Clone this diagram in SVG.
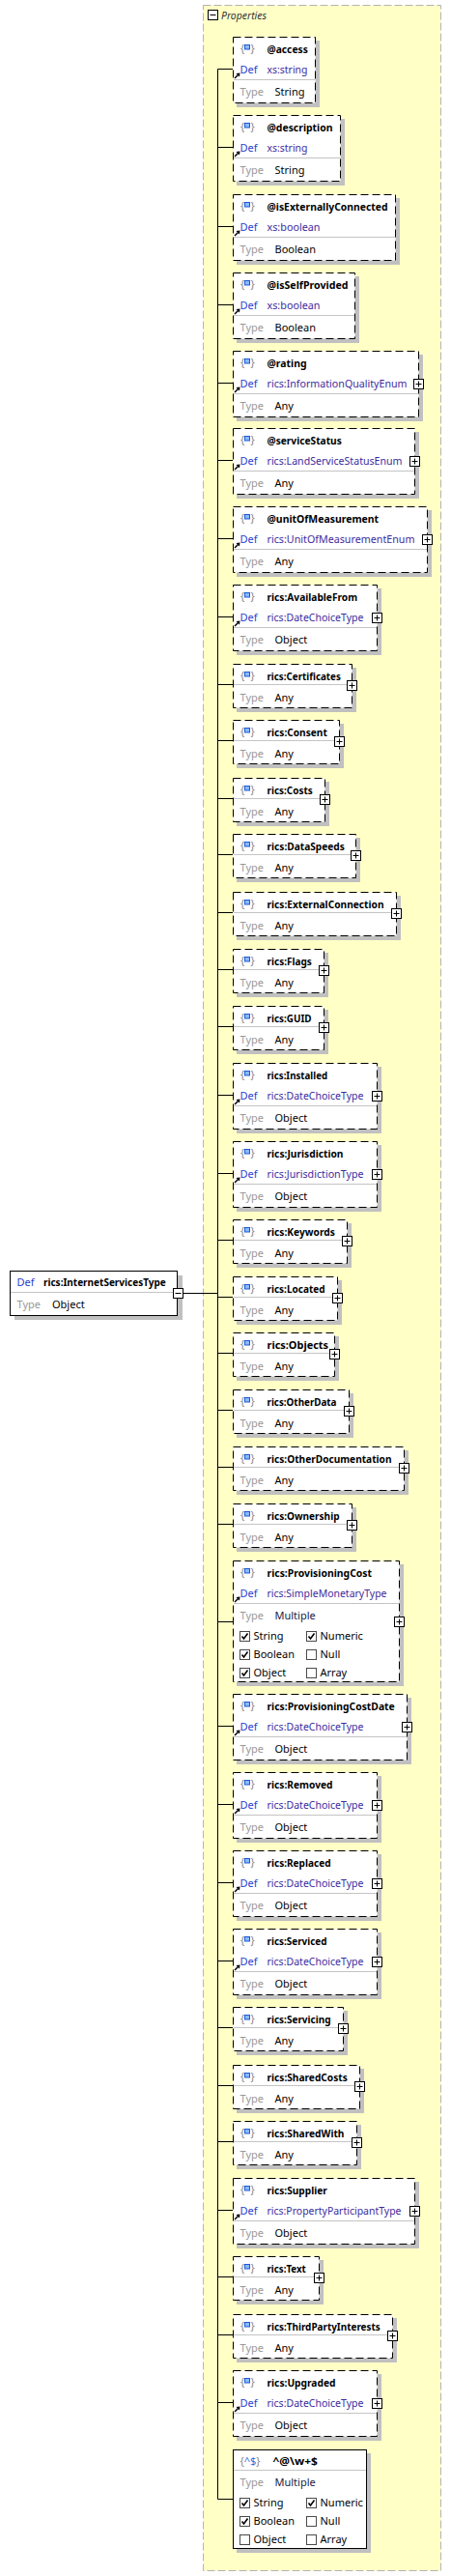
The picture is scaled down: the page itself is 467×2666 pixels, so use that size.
<svg xmlns="http://www.w3.org/2000/svg" xmlns:xlink="http://www.w3.org/1999/xlink" width="467" height="2666" viewBox="0 0 467 2666">
<style>
text{font-family:"Noto Sans","Liberation Sans",sans-serif;font-size:11px}
.sh{fill:#c0c0c0}
.bx{fill:#fff;stroke:#000;stroke-width:1;stroke-dasharray:8 4}
.bs{fill:#fff;stroke:#000;stroke-width:1}
.sep{stroke:#c4c4c4;stroke-width:1}
.nm{font-weight:bold;fill:#000}
.df{fill:#1f3fd0}
.tr{fill:#3d2b9e}
.tl{fill:#999}
.vl{fill:#000}
.mu{fill:#222244}
.br{fill:#888}
.bl{fill:#2a6fe0}
.cn{stroke:#000;stroke-width:1;fill:none}
.cont{fill:#ffffc6;stroke:#b4b4b4;stroke-dasharray:8 3}
</style>
<defs>
<g id="ic"><text class="br" x="8" y="16">{</text><text class="br" x="18.5" y="16">}</text><rect x="12.5" y="8.5" width="5" height="4.5" fill="#8ab8ff" stroke="#1a5cd8"/></g>
<g id="arr"><path d="M2,43 L5.5,39.5" stroke="#000" stroke-width="1.5"/><path d="M7.5,37.5 L3.5,38 L7,41.5Z" fill="#000"/></g>
<g id="plus"><rect x="-5" y="-5" width="10" height="10" fill="#fff" stroke="#000"/><path d="M-3,0H3M0,-3V3" stroke="#000"/></g>
<g id="cb"><rect x="0.5" y="0.5" width="10" height="10" fill="#fff" stroke="#4a4a4a"/></g>
<g id="cbk"><use href="#cb"/><path d="M2.5,5.5 L4.5,8 L8.5,2.5" stroke="#000" stroke-width="1.6" fill="none"/></g>
</defs>

<g id="properties">
<rect class="cont" x="210.5" y="5.5" width="246" height="2655"/>
<rect x="215.5" y="10.5" width="10" height="10" fill="#fff" stroke="#000"/>
<path d="M217.5,15.5H223.5" stroke="#000"/>
<text x="229" y="19.5" font-style="italic" fill="#333" textLength="47" lengthAdjust="spacingAndGlyphs">Properties</text>
</g>

<g id="connectors" class="cn">
<path d="M189.5,1338.5H225.5"/>
<path d="M225.5,71.5V2586.5"/>
<path d="M225.5,71.5H241M225.5,152.5H241M225.5,234.5H241M225.5,315.5H241M225.5,396.5H241M225.5,476.5H241M225.5,557.5H241M225.5,638.5H241M225.5,708.5H241M225.5,766.5H241M225.5,826.5H241M225.5,884.5H241M225.5,944.5H241M225.5,1003.5H241M225.5,1062.5H241M225.5,1133.5H241M225.5,1214.5H241M225.5,1283.5H241M225.5,1342.5H241M225.5,1400.5H241M225.5,1459.5H241M225.5,1518.5H241M225.5,1577.5H241M225.5,1678.5H241M225.5,1786.5H241M225.5,1867.5H241M225.5,1948.5H241M225.5,2029.5H241M225.5,2098.5H241M225.5,2158.5H241M225.5,2216.5H241M225.5,2287.5H241M225.5,2356.5H241M225.5,2416.5H241M225.5,2486.5H241M225.5,2586.5H241"/>
</g>

<g id="root">
<rect class="sh" x="15" y="1320" width="174" height="46"/>
<rect class="bs" x="10.5" y="1315.5" width="173" height="46"/>
<line class="sep" x1="11" y1="1337.5" x2="183" y2="1337.5"/>
<text class="df" x="17.5" y="1331">Def</text>
<text class="nm" x="45" y="1331" textLength="126.7" lengthAdjust="spacingAndGlyphs">rics:InternetServicesType</text>
<text class="tl" x="17.5" y="1353.5">Type</text>
<text class="vl" x="54" y="1353.5">Object</text>
<rect x="179.5" y="1333.5" width="10" height="10" fill="#fff" stroke="#000"/>
<path d="M181.5,1338.5H187.5" stroke="#000"/>
</g>

<g id="n-access">
<rect class="sh" x="245" y="42" width="86" height="69"/><rect class="bx" x="241.5" y="38.5" width="85" height="68"/>
<use href="#ic" x="241" y="38"/><text class="nm" x="276.5" y="55" textLength="42.3" lengthAdjust="spacingAndGlyphs">@access</text>
<text class="df" x="248.5" y="76">Def</text><text class="tr" x="276.5" y="76" textLength="42" lengthAdjust="spacingAndGlyphs">xs:string</text>
<line class="sep" x1="242" y1="82.5" x2="326" y2="82.5"/>
<text class="tl" x="248.5" y="98.5">Type</text><text class="vl" x="284.5" y="98.5">String</text>
<use href="#arr" x="241" y="38"/>
</g>

<g id="n-description">
<rect class="sh" x="245" y="123" width="112" height="69"/><rect class="bx" x="241.5" y="119.5" width="111" height="68"/>
<use href="#ic" x="241" y="119"/><text class="nm" x="276.5" y="136" textLength="68" lengthAdjust="spacingAndGlyphs">@description</text>
<text class="df" x="248.5" y="157">Def</text><text class="tr" x="276.5" y="157" textLength="42" lengthAdjust="spacingAndGlyphs">xs:string</text>
<line class="sep" x1="242" y1="163.5" x2="352" y2="163.5"/>
<text class="tl" x="248.5" y="179.5">Type</text><text class="vl" x="284.5" y="179.5">String</text>
<use href="#arr" x="241" y="119"/>
</g>

<g id="n-isExternallyConnected">
<rect class="sh" x="245" y="205" width="169" height="69"/><rect class="bx" x="241.5" y="201.5" width="168" height="68"/>
<use href="#ic" x="241" y="201"/><text class="nm" x="276.5" y="218" textLength="125" lengthAdjust="spacingAndGlyphs">@isExternallyConnected</text>
<text class="df" x="248.5" y="239">Def</text><text class="tr" x="276.5" y="239" textLength="55" lengthAdjust="spacingAndGlyphs">xs:boolean</text>
<line class="sep" x1="242" y1="245.5" x2="409" y2="245.5"/>
<text class="tl" x="248.5" y="261.5">Type</text><text class="vl" x="284.5" y="261.5">Boolean</text>
<use href="#arr" x="241" y="201"/>
</g>

<g id="n-isSelfProvided">
<rect class="sh" x="245" y="286" width="127" height="69"/><rect class="bx" x="241.5" y="282.5" width="126" height="68"/>
<use href="#ic" x="241" y="282"/><text class="nm" x="276.5" y="299" textLength="84" lengthAdjust="spacingAndGlyphs">@isSelfProvided</text>
<text class="df" x="248.5" y="320">Def</text><text class="tr" x="276.5" y="320" textLength="55" lengthAdjust="spacingAndGlyphs">xs:boolean</text>
<line class="sep" x1="242" y1="326.5" x2="367" y2="326.5"/>
<text class="tl" x="248.5" y="342.5">Type</text><text class="vl" x="284.5" y="342.5">Boolean</text>
<use href="#arr" x="241" y="282"/>
</g>

<g id="n-rating">
<rect class="sh" x="245" y="367" width="193" height="69"/><rect class="bx" x="241.5" y="363.5" width="192" height="68"/>
<use href="#ic" x="241" y="363"/><text class="nm" x="276.5" y="380" textLength="41" lengthAdjust="spacingAndGlyphs">@rating</text>
<text class="df" x="248.5" y="401">Def</text><text class="tr" x="276.5" y="401" textLength="145" lengthAdjust="spacingAndGlyphs">rics:InformationQualityEnum</text>
<line class="sep" x1="242" y1="407.5" x2="433" y2="407.5"/>
<text class="tl" x="248.5" y="423.5">Type</text><text class="vl" x="284.5" y="423.5">Any</text>
<use href="#arr" x="241" y="363"/><use href="#plus" x="433.5" y="397.5"/>
</g>

<g id="n-serviceStatus">
<rect class="sh" x="245" y="447" width="189" height="69"/><rect class="bx" x="241.5" y="443.5" width="188" height="68"/>
<use href="#ic" x="241" y="443"/><text class="nm" x="276.5" y="460" textLength="77.3" lengthAdjust="spacingAndGlyphs">@serviceStatus</text>
<text class="df" x="248.5" y="481">Def</text><text class="tr" x="276.5" y="481" textLength="140" lengthAdjust="spacingAndGlyphs">rics:LandServiceStatusEnum</text>
<line class="sep" x1="242" y1="487.5" x2="429" y2="487.5"/>
<text class="tl" x="248.5" y="503.5">Type</text><text class="vl" x="284.5" y="503.5">Any</text>
<use href="#arr" x="241" y="443"/><use href="#plus" x="429.5" y="477.5"/>
</g>

<g id="n-unitOfMeasurement">
<rect class="sh" x="245" y="528" width="202" height="69"/><rect class="bx" x="241.5" y="524.5" width="201" height="68"/>
<use href="#ic" x="241" y="524"/><text class="nm" x="276.5" y="541" textLength="115.6" lengthAdjust="spacingAndGlyphs">@unitOfMeasurement</text>
<text class="df" x="248.5" y="562">Def</text><text class="tr" x="276.5" y="562" textLength="153" lengthAdjust="spacingAndGlyphs">rics:UnitOfMeasurementEnum</text>
<line class="sep" x1="242" y1="568.5" x2="442" y2="568.5"/>
<text class="tl" x="248.5" y="584.5">Type</text><text class="vl" x="284.5" y="584.5">Any</text>
<use href="#arr" x="241" y="524"/><use href="#plus" x="442.5" y="558.5"/>
</g>

<g id="n-AvailableFrom">
<rect class="sh" x="245" y="609" width="150" height="69"/><rect class="bx" x="241.5" y="605.5" width="149" height="68"/>
<use href="#ic" x="241" y="605"/><text class="nm" x="276.5" y="622" textLength="93.6" lengthAdjust="spacingAndGlyphs">rics:AvailableFrom</text>
<text class="df" x="248.5" y="643">Def</text><text class="tr" x="276.5" y="643" textLength="100" lengthAdjust="spacingAndGlyphs">rics:DateChoiceType</text>
<line class="sep" x1="242" y1="649.5" x2="390" y2="649.5"/>
<text class="tl" x="248.5" y="665.5">Type</text><text class="vl" x="284.5" y="665.5">Object</text>
<use href="#arr" x="241" y="605"/><use href="#plus" x="390.5" y="639.5"/>
</g>

<g id="n-Certificates">
<rect class="sh" x="245" y="691" width="124" height="46"/><rect class="bx" x="241.5" y="687.5" width="123" height="45"/>
<use href="#ic" x="241" y="687"/><text class="nm" x="276.5" y="704" textLength="76.3" lengthAdjust="spacingAndGlyphs">rics:Certificates</text>
<line class="sep" x1="242" y1="708.5" x2="364" y2="708.5"/>
<text class="tl" x="248.5" y="725.5">Type</text><text class="vl" x="284.5" y="725.5">Any</text>
<use href="#plus" x="364.5" y="709.5"/>
</g>

<g id="n-Consent">
<rect class="sh" x="245" y="749" width="111" height="46"/><rect class="bx" x="241.5" y="745.5" width="110" height="45"/>
<use href="#ic" x="241" y="745"/><text class="nm" x="276.5" y="762" textLength="62.3" lengthAdjust="spacingAndGlyphs">rics:Consent</text>
<line class="sep" x1="242" y1="766.5" x2="351" y2="766.5"/>
<text class="tl" x="248.5" y="783.5">Type</text><text class="vl" x="284.5" y="783.5">Any</text>
<use href="#plus" x="351.5" y="767.5"/>
</g>

<g id="n-Costs">
<rect class="sh" x="245" y="809" width="96" height="46"/><rect class="bx" x="241.5" y="805.5" width="95" height="45"/>
<use href="#ic" x="241" y="805"/><text class="nm" x="276.5" y="822" textLength="47.3" lengthAdjust="spacingAndGlyphs">rics:Costs</text>
<line class="sep" x1="242" y1="826.5" x2="336" y2="826.5"/>
<text class="tl" x="248.5" y="843.5">Type</text><text class="vl" x="284.5" y="843.5">Any</text>
<use href="#plus" x="336.5" y="827.5"/>
</g>

<g id="n-DataSpeeds">
<rect class="sh" x="245" y="867" width="128" height="46"/><rect class="bx" x="241.5" y="863.5" width="127" height="45"/>
<use href="#ic" x="241" y="863"/><text class="nm" x="276.5" y="880" textLength="80.3" lengthAdjust="spacingAndGlyphs">rics:DataSpeeds</text>
<line class="sep" x1="242" y1="884.5" x2="368" y2="884.5"/>
<text class="tl" x="248.5" y="901.5">Type</text><text class="vl" x="284.5" y="901.5">Any</text>
<use href="#plus" x="368.5" y="885.5"/>
</g>

<g id="n-ExternalConnection">
<rect class="sh" x="245" y="927" width="170" height="46"/><rect class="bx" x="241.5" y="923.5" width="169" height="45"/>
<use href="#ic" x="241" y="923"/><text class="nm" x="276.5" y="940" textLength="121" lengthAdjust="spacingAndGlyphs">rics:ExternalConnection</text>
<line class="sep" x1="242" y1="944.5" x2="410" y2="944.5"/>
<text class="tl" x="248.5" y="961.5">Type</text><text class="vl" x="284.5" y="961.5">Any</text>
<use href="#plus" x="410.5" y="945.5"/>
</g>

<g id="n-Flags">
<rect class="sh" x="245" y="986" width="95" height="46"/><rect class="bx" x="241.5" y="982.5" width="94" height="45"/>
<use href="#ic" x="241" y="982"/><text class="nm" x="276.5" y="999" textLength="46.3" lengthAdjust="spacingAndGlyphs">rics:Flags</text>
<line class="sep" x1="242" y1="1003.5" x2="335" y2="1003.5"/>
<text class="tl" x="248.5" y="1020.5">Type</text><text class="vl" x="284.5" y="1020.5">Any</text>
<use href="#plus" x="335.5" y="1004.5"/>
</g>

<g id="n-GUID">
<rect class="sh" x="245" y="1045" width="95" height="46"/><rect class="bx" x="241.5" y="1041.5" width="94" height="45"/>
<use href="#ic" x="241" y="1041"/><text class="nm" x="276.5" y="1058" textLength="46" lengthAdjust="spacingAndGlyphs">rics:GUID</text>
<line class="sep" x1="242" y1="1062.5" x2="335" y2="1062.5"/>
<text class="tl" x="248.5" y="1079.5">Type</text><text class="vl" x="284.5" y="1079.5">Any</text>
<use href="#plus" x="335.5" y="1063.5"/>
</g>

<g id="n-Installed">
<rect class="sh" x="245" y="1104" width="150" height="69"/><rect class="bx" x="241.5" y="1100.5" width="149" height="68"/>
<use href="#ic" x="241" y="1100"/><text class="nm" x="276.5" y="1117" textLength="62.6" lengthAdjust="spacingAndGlyphs">rics:Installed</text>
<text class="df" x="248.5" y="1138">Def</text><text class="tr" x="276.5" y="1138" textLength="100" lengthAdjust="spacingAndGlyphs">rics:DateChoiceType</text>
<line class="sep" x1="242" y1="1144.5" x2="390" y2="1144.5"/>
<text class="tl" x="248.5" y="1160.5">Type</text><text class="vl" x="284.5" y="1160.5">Object</text>
<use href="#arr" x="241" y="1100"/><use href="#plus" x="390.5" y="1134.5"/>
</g>

<g id="n-Jurisdiction">
<rect class="sh" x="245" y="1185" width="150" height="69"/><rect class="bx" x="241.5" y="1181.5" width="149" height="68"/>
<use href="#ic" x="241" y="1181"/><text class="nm" x="276.5" y="1198" textLength="79" lengthAdjust="spacingAndGlyphs">rics:Jurisdiction</text>
<text class="df" x="248.5" y="1219">Def</text><text class="tr" x="276.5" y="1219" textLength="100" lengthAdjust="spacingAndGlyphs">rics:JurisdictionType</text>
<line class="sep" x1="242" y1="1225.5" x2="390" y2="1225.5"/>
<text class="tl" x="248.5" y="1241.5">Type</text><text class="vl" x="284.5" y="1241.5">Object</text>
<use href="#arr" x="241" y="1181"/><use href="#plus" x="390.5" y="1215.5"/>
</g>

<g id="n-Keywords">
<rect class="sh" x="245" y="1266" width="119" height="46"/><rect class="bx" x="241.5" y="1262.5" width="118" height="45"/>
<use href="#ic" x="241" y="1262"/><text class="nm" x="276.5" y="1279" textLength="70.3" lengthAdjust="spacingAndGlyphs">rics:Keywords</text>
<line class="sep" x1="242" y1="1283.5" x2="359" y2="1283.5"/>
<text class="tl" x="248.5" y="1300.5">Type</text><text class="vl" x="284.5" y="1300.5">Any</text>
<use href="#plus" x="359.5" y="1284.5"/>
</g>

<g id="n-Located">
<rect class="sh" x="245" y="1325" width="109" height="46"/><rect class="bx" x="241.5" y="1321.5" width="108" height="45"/>
<use href="#ic" x="241" y="1321"/><text class="nm" x="276.5" y="1338" textLength="60" lengthAdjust="spacingAndGlyphs">rics:Located</text>
<line class="sep" x1="242" y1="1342.5" x2="349" y2="1342.5"/>
<text class="tl" x="248.5" y="1359.5">Type</text><text class="vl" x="284.5" y="1359.5">Any</text>
<use href="#plus" x="349.5" y="1343.5"/>
</g>

<g id="n-Objects">
<rect class="sh" x="245" y="1383" width="106" height="46"/><rect class="bx" x="241.5" y="1379.5" width="105" height="45"/>
<use href="#ic" x="241" y="1379"/><text class="nm" x="276.5" y="1396" textLength="63.6" lengthAdjust="spacingAndGlyphs">rics:Objects</text>
<line class="sep" x1="242" y1="1400.5" x2="346" y2="1400.5"/>
<text class="tl" x="248.5" y="1417.5">Type</text><text class="vl" x="284.5" y="1417.5">Any</text>
<use href="#plus" x="346.5" y="1401.5"/>
</g>

<g id="n-OtherData">
<rect class="sh" x="245" y="1442" width="121" height="46"/><rect class="bx" x="241.5" y="1438.5" width="120" height="45"/>
<use href="#ic" x="241" y="1438"/><text class="nm" x="276.5" y="1455" textLength="72" lengthAdjust="spacingAndGlyphs">rics:OtherData</text>
<line class="sep" x1="242" y1="1459.5" x2="361" y2="1459.5"/>
<text class="tl" x="248.5" y="1476.5">Type</text><text class="vl" x="284.5" y="1476.5">Any</text>
<use href="#plus" x="361.5" y="1460.5"/>
</g>

<g id="n-OtherDocumentation">
<rect class="sh" x="245" y="1501" width="178" height="46"/><rect class="bx" x="241.5" y="1497.5" width="177" height="45"/>
<use href="#ic" x="241" y="1497"/><text class="nm" x="276.5" y="1514" textLength="129" lengthAdjust="spacingAndGlyphs">rics:OtherDocumentation</text>
<line class="sep" x1="242" y1="1518.5" x2="418" y2="1518.5"/>
<text class="tl" x="248.5" y="1535.5">Type</text><text class="vl" x="284.5" y="1535.5">Any</text>
<use href="#plus" x="418.5" y="1519.5"/>
</g>

<g id="n-Ownership">
<rect class="sh" x="245" y="1560" width="124" height="46"/><rect class="bx" x="241.5" y="1556.5" width="123" height="45"/>
<use href="#ic" x="241" y="1556"/><text class="nm" x="276.5" y="1573" textLength="75" lengthAdjust="spacingAndGlyphs">rics:Ownership</text>
<line class="sep" x1="242" y1="1577.5" x2="364" y2="1577.5"/>
<text class="tl" x="248.5" y="1594.5">Type</text><text class="vl" x="284.5" y="1594.5">Any</text>
<use href="#plus" x="364.5" y="1578.5"/>
</g>

<g id="n-ProvisioningCost">
<rect class="sh" x="245" y="1619" width="173" height="126"/><rect class="bx" x="241.5" y="1615.5" width="172" height="125"/>
<use href="#ic" x="241" y="1615"/><text class="nm" x="276.5" y="1632" textLength="108.6" lengthAdjust="spacingAndGlyphs">rics:ProvisioningCost</text>
<text class="df" x="248.5" y="1653">Def</text><text class="tr" x="276.5" y="1653" textLength="124" lengthAdjust="spacingAndGlyphs">rics:SimpleMonetaryType</text>
<line class="sep" x1="242" y1="1659.5" x2="413" y2="1659.5"/>
<text class="tl" x="248.5" y="1675.5">Type</text><text class="mu" x="284.5" y="1675.5">Multiple</text>
<use href="#cbk" x="248" y="1688"/><text class="vl" x="262.5" y="1696.5">String</text>
<use href="#cbk" x="317" y="1688"/><text class="vl" x="331.5" y="1696.5">Numeric</text>
<use href="#cbk" x="248" y="1707"/><text class="vl" x="262.5" y="1715.5">Boolean</text>
<use href="#cb" x="317" y="1707"/><text class="vl" x="331.5" y="1715.5">Null</text>
<use href="#cbk" x="248" y="1726"/><text class="vl" x="262.5" y="1734.5">Object</text>
<use href="#cb" x="317" y="1726"/><text class="vl" x="331.5" y="1734.5">Array</text>
<use href="#arr" x="241" y="1615"/><use href="#plus" x="413.5" y="1678.5"/>
</g>

<g id="n-ProvisioningCostDate">
<rect class="sh" x="245" y="1757" width="181" height="69"/><rect class="bx" x="241.5" y="1753.5" width="180" height="68"/>
<use href="#ic" x="241" y="1753"/><text class="nm" x="276.5" y="1770" textLength="132.3" lengthAdjust="spacingAndGlyphs">rics:ProvisioningCostDate</text>
<text class="df" x="248.5" y="1791">Def</text><text class="tr" x="276.5" y="1791" textLength="100" lengthAdjust="spacingAndGlyphs">rics:DateChoiceType</text>
<line class="sep" x1="242" y1="1797.5" x2="421" y2="1797.5"/>
<text class="tl" x="248.5" y="1813.5">Type</text><text class="vl" x="284.5" y="1813.5">Object</text>
<use href="#arr" x="241" y="1753"/><use href="#plus" x="421.5" y="1787.5"/>
</g>

<g id="n-Removed">
<rect class="sh" x="245" y="1838" width="150" height="69"/><rect class="bx" x="241.5" y="1834.5" width="149" height="68"/>
<use href="#ic" x="241" y="1834"/><text class="nm" x="276.5" y="1851" textLength="68" lengthAdjust="spacingAndGlyphs">rics:Removed</text>
<text class="df" x="248.5" y="1872">Def</text><text class="tr" x="276.5" y="1872" textLength="100" lengthAdjust="spacingAndGlyphs">rics:DateChoiceType</text>
<line class="sep" x1="242" y1="1878.5" x2="390" y2="1878.5"/>
<text class="tl" x="248.5" y="1894.5">Type</text><text class="vl" x="284.5" y="1894.5">Object</text>
<use href="#arr" x="241" y="1834"/><use href="#plus" x="390.5" y="1868.5"/>
</g>

<g id="n-Replaced">
<rect class="sh" x="245" y="1919" width="150" height="69"/><rect class="bx" x="241.5" y="1915.5" width="149" height="68"/>
<use href="#ic" x="241" y="1915"/><text class="nm" x="276.5" y="1932" textLength="66" lengthAdjust="spacingAndGlyphs">rics:Replaced</text>
<text class="df" x="248.5" y="1953">Def</text><text class="tr" x="276.5" y="1953" textLength="100" lengthAdjust="spacingAndGlyphs">rics:DateChoiceType</text>
<line class="sep" x1="242" y1="1959.5" x2="390" y2="1959.5"/>
<text class="tl" x="248.5" y="1975.5">Type</text><text class="vl" x="284.5" y="1975.5">Object</text>
<use href="#arr" x="241" y="1915"/><use href="#plus" x="390.5" y="1949.5"/>
</g>

<g id="n-Serviced">
<rect class="sh" x="245" y="2000" width="150" height="69"/><rect class="bx" x="241.5" y="1996.5" width="149" height="68"/>
<use href="#ic" x="241" y="1996"/><text class="nm" x="276.5" y="2013" textLength="62" lengthAdjust="spacingAndGlyphs">rics:Serviced</text>
<text class="df" x="248.5" y="2034">Def</text><text class="tr" x="276.5" y="2034" textLength="100" lengthAdjust="spacingAndGlyphs">rics:DateChoiceType</text>
<line class="sep" x1="242" y1="2040.5" x2="390" y2="2040.5"/>
<text class="tl" x="248.5" y="2056.5">Type</text><text class="vl" x="284.5" y="2056.5">Object</text>
<use href="#arr" x="241" y="1996"/><use href="#plus" x="390.5" y="2030.5"/>
</g>

<g id="n-Servicing">
<rect class="sh" x="245" y="2081" width="115" height="46"/><rect class="bx" x="241.5" y="2077.5" width="114" height="45"/>
<use href="#ic" x="241" y="2077"/><text class="nm" x="276.5" y="2094" textLength="66" lengthAdjust="spacingAndGlyphs">rics:Servicing</text>
<line class="sep" x1="242" y1="2098.5" x2="355" y2="2098.5"/>
<text class="tl" x="248.5" y="2115.5">Type</text><text class="vl" x="284.5" y="2115.5">Any</text>
<use href="#plus" x="355.5" y="2099.5"/>
</g>

<g id="n-SharedCosts">
<rect class="sh" x="245" y="2141" width="132" height="46"/><rect class="bx" x="241.5" y="2137.5" width="131" height="45"/>
<use href="#ic" x="241" y="2137"/><text class="nm" x="276.5" y="2154" textLength="83.3" lengthAdjust="spacingAndGlyphs">rics:SharedCosts</text>
<line class="sep" x1="242" y1="2158.5" x2="372" y2="2158.5"/>
<text class="tl" x="248.5" y="2175.5">Type</text><text class="vl" x="284.5" y="2175.5">Any</text>
<use href="#plus" x="372.5" y="2159.5"/>
</g>

<g id="n-SharedWith">
<rect class="sh" x="245" y="2199" width="129" height="46"/><rect class="bx" x="241.5" y="2195.5" width="128" height="45"/>
<use href="#ic" x="241" y="2195"/><text class="nm" x="276.5" y="2212" textLength="80" lengthAdjust="spacingAndGlyphs">rics:SharedWith</text>
<line class="sep" x1="242" y1="2216.5" x2="369" y2="2216.5"/>
<text class="tl" x="248.5" y="2233.5">Type</text><text class="vl" x="284.5" y="2233.5">Any</text>
<use href="#plus" x="369.5" y="2217.5"/>
</g>

<g id="n-Supplier">
<rect class="sh" x="245" y="2258" width="189" height="69"/><rect class="bx" x="241.5" y="2254.5" width="188" height="68"/>
<use href="#ic" x="241" y="2254"/><text class="nm" x="276.5" y="2271" textLength="62.3" lengthAdjust="spacingAndGlyphs">rics:Supplier</text>
<text class="df" x="248.5" y="2292">Def</text><text class="tr" x="276.5" y="2292" textLength="139" lengthAdjust="spacingAndGlyphs">rics:PropertyParticipantType</text>
<line class="sep" x1="242" y1="2298.5" x2="429" y2="2298.5"/>
<text class="tl" x="248.5" y="2314.5">Type</text><text class="vl" x="284.5" y="2314.5">Object</text>
<use href="#arr" x="241" y="2254"/><use href="#plus" x="429.5" y="2288.5"/>
</g>

<g id="n-Text">
<rect class="sh" x="245" y="2339" width="90" height="46"/><rect class="bx" x="241.5" y="2335.5" width="89" height="45"/>
<use href="#ic" x="241" y="2335"/><text class="nm" x="276.5" y="2352" textLength="40.3" lengthAdjust="spacingAndGlyphs">rics:Text</text>
<line class="sep" x1="242" y1="2356.5" x2="330" y2="2356.5"/>
<text class="tl" x="248.5" y="2373.5">Type</text><text class="vl" x="284.5" y="2373.5">Any</text>
<use href="#plus" x="330.5" y="2357.5"/>
</g>

<g id="n-ThirdPartyInterests">
<rect class="sh" x="245" y="2399" width="166" height="46"/><rect class="bx" x="241.5" y="2395.5" width="165" height="45"/>
<use href="#ic" x="241" y="2395"/><text class="nm" x="276.5" y="2412" textLength="117.3" lengthAdjust="spacingAndGlyphs">rics:ThirdPartyInterests</text>
<line class="sep" x1="242" y1="2416.5" x2="406" y2="2416.5"/>
<text class="tl" x="248.5" y="2433.5">Type</text><text class="vl" x="284.5" y="2433.5">Any</text>
<use href="#plus" x="406.5" y="2417.5"/>
</g>

<g id="n-Upgraded">
<rect class="sh" x="245" y="2457" width="150" height="69"/><rect class="bx" x="241.5" y="2453.5" width="149" height="68"/>
<use href="#ic" x="241" y="2453"/><text class="nm" x="276.5" y="2470" textLength="71" lengthAdjust="spacingAndGlyphs">rics:Upgraded</text>
<text class="df" x="248.5" y="2491">Def</text><text class="tr" x="276.5" y="2491" textLength="100" lengthAdjust="spacingAndGlyphs">rics:DateChoiceType</text>
<line class="sep" x1="242" y1="2497.5" x2="390" y2="2497.5"/>
<text class="tl" x="248.5" y="2513.5">Type</text><text class="vl" x="284.5" y="2513.5">Object</text>
<use href="#arr" x="241" y="2453"/><use href="#plus" x="390.5" y="2487.5"/>
</g>

<g id="n-pattern">
<rect class="sh" x="245" y="2539" width="139" height="103"/><rect class="bs" x="241.5" y="2535.5" width="138" height="102"/>
<text x="248.5" y="2551"><tspan class="br">{</tspan><tspan class="bl">^$</tspan><tspan class="br">}</tspan></text>
<text class="nm" x="282.5" y="2551" textLength="46.3" lengthAdjust="spacingAndGlyphs">^@\w+$</text>
<line class="sep" x1="242" y1="2556.5" x2="379" y2="2556.5"/>
<text class="tl" x="248.5" y="2572.5">Type</text><text class="mu" x="284.5" y="2572.5">Multiple</text>
<use href="#cbk" x="248" y="2585"/><text class="vl" x="262.5" y="2593.5">String</text>
<use href="#cbk" x="317" y="2585"/><text class="vl" x="331.5" y="2593.5">Numeric</text>
<use href="#cbk" x="248" y="2604"/><text class="vl" x="262.5" y="2612.5">Boolean</text>
<use href="#cb" x="317" y="2604"/><text class="vl" x="331.5" y="2612.5">Null</text>
<use href="#cb" x="248" y="2623"/><text class="vl" x="262.5" y="2631.5">Object</text>
<use href="#cb" x="317" y="2623"/><text class="vl" x="331.5" y="2631.5">Array</text>
</g>
</svg>
